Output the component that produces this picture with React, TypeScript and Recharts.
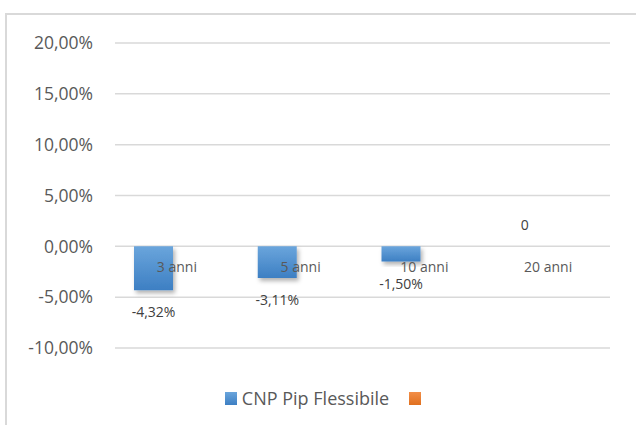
import { Bar, BarChart, CartesianGrid, Cell, LabelList, Legend, XAxis, YAxis } from 'recharts';

const categories = ['3 anni', '5 anni', '10 anni', '20 anni'];
const cnpValues = [-4.32, -3.11, -1.5, 0];
const secondValues: (number | null)[] = [null, null, null, null];
const seriesNames = ['CNP Pip Flessibile', ''];
const yTicks = [-10, -5, 0, 5, 10, 15, 20];

const data = categories.map((c, i) => ({ cat: c, cnp: cnpValues[i], s2: secondValues[i] }));

// layout
const W = 636;
const H = 425;
const M = { top: 43, right: 26, left: 0, bottom: 9 };
const Y_W = 115;
const X_H = 38;
const LEGEND_H = 30;
const PLOT_TOP = M.top;
const PLOT_H = H - M.top - M.bottom - X_H - LEGEND_H;
const Y_MIN = -10;
const Y_MAX = 20;
const ZERO_Y = PLOT_TOP + (PLOT_H * Y_MAX) / (Y_MAX - Y_MIN);

const FONT = '"Open Sans", "Noto Sans", sans-serif';

const pct = (v: number) => `${v.toFixed(2).replace('.', ',')}%`;

function CatTick(props: any) {
  const { x, payload } = props;
  return (
    <text x={x} y={ZERO_Y + 21} dy="0.355em" textAnchor="middle" fill="#595959" fontSize={14} fontFamily={FONT}>
      {payload.value}
    </text>
  );
}

function ValTick(props: any) {
  const { x, y, payload } = props;
  return (
    <text x={x} y={y} dy="0.355em" textAnchor="end" fill="#595959" fontSize={17.5} fontFamily={FONT}>
      {pct(payload.value)}
    </text>
  );
}

function ValueLabel(props: any) {
  const { x, y, width, height, value } = props;
  if (value == null) return null;
  const cx = x + width / 2;
  const top = Math.min(y, y + height);
  const bottom = Math.max(y, y + height);
  const ly = value < 0 ? bottom + 22 : top - 20;
  return (
    <text x={cx} y={ly} dy="0.355em" textAnchor="middle" fill="#404040" fontSize={14} fontFamily={FONT}>
      {value === 0 ? '0' : pct(value)}
    </text>
  );
}

function LegendContent() {
  const colors = ['linear-gradient(#6aa5dc, #3d7fc3)', 'linear-gradient(#f28e48, #e0701f)'];
  return (
    <div style={{ display: 'flex', justifyContent: 'center', alignItems: 'center', fontFamily: FONT, fontSize: 18, color: '#595959', paddingLeft: 36 }}>
      {seriesNames.map((n, i) => (
        <div key={i} style={{ display: 'flex', alignItems: 'center', marginRight: i === 0 ? 20 : 0 }}>
          <span style={{ width: 12, height: 13, background: colors[i], display: 'inline-block', marginRight: n ? 5 : 0 }} />
          {n && <span>{n}</span>}
        </div>
      ))}
    </div>
  );
}

export default function App() {
  return (
    <div style={{ position: 'absolute', left: 0, top: 0, width: W, height: H, overflow: 'hidden', background: '#fff' }}>
      <div style={{ position: 'absolute', left: 5, top: 13, width: 700, height: 500, border: '2px solid #d9d9d9' }} />
      <div style={{ position: 'absolute', left: 0, top: 0 }}>
        <BarChart width={W} height={H} data={data} margin={M} barGap={8}>
          <defs>
            <linearGradient id="blueGrad" x1="0" y1="0" x2="0" y2="1">
              <stop offset="0%" stopColor="#6aa5dc" />
              <stop offset="100%" stopColor="#3d7fc3" />
            </linearGradient>
            <linearGradient id="orangeGrad" x1="0" y1="0" x2="0" y2="1">
              <stop offset="0%" stopColor="#f28e48" />
              <stop offset="100%" stopColor="#e0701f" />
            </linearGradient>
            <filter id="barShadow" x="-30%" y="-30%" width="160%" height="160%">
              <feDropShadow dx="2" dy="3" stdDeviation="2" floodColor="#000" floodOpacity="0.3" />
            </filter>
          </defs>
          <CartesianGrid vertical={false} stroke="#d9d9d9" strokeWidth={1.5} />
          <XAxis dataKey="cat" height={X_H} axisLine={false} tickLine={false} tick={<CatTick />} interval={0} />
          <YAxis
            width={Y_W}
            domain={[Y_MIN, Y_MAX]}
            ticks={yTicks}
            axisLine={false}
            tickLine={false}
            tickSize={0}
            tickMargin={22}
            tick={<ValTick />}
          />
          <Legend verticalAlign="bottom" height={LEGEND_H} content={<LegendContent />} />
          <Bar dataKey="cnp" name={seriesNames[0]} barSize={39} minPointSize={1} fill="url(#blueGrad)" filter="url(#barShadow)" isAnimationActive={false}>
            {data.map((d, i) => (
              <Cell key={i} fill={d.cnp === 0 ? 'transparent' : 'url(#blueGrad)'} />
            ))}
            <LabelList dataKey="cnp" content={<ValueLabel />} />
          </Bar>
          <Bar dataKey="s2" name="serie2" barSize={39} fill="url(#orangeGrad)" isAnimationActive={false} />
        </BarChart>
      </div>
    </div>
  );
}
